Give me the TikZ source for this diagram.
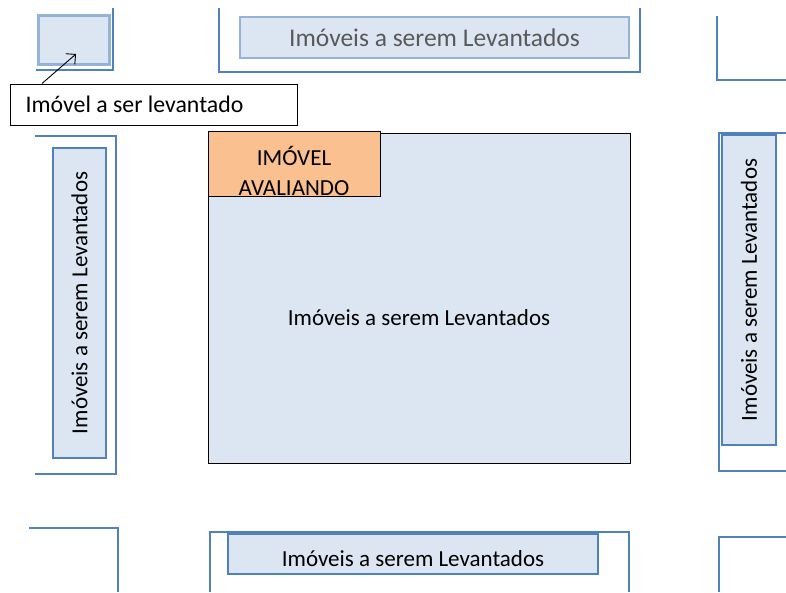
\documentclass[tikz,border=0pt]{standalone}
\usepackage{fontspec}
\setmainfont{Carlito}
\usetikzlibrary{arrows.meta}
\definecolor{lb}{HTML}{DCE6F2}
\definecolor{fr}{HTML}{4F81BD}
\definecolor{ib}{HTML}{95B3D7}
\definecolor{org}{HTML}{FAC090}
\definecolor{gtxt}{HTML}{595959}
\tikzset{
  frame/.style={draw=fr, line width=2.2pt},
  txt/.style={font=\fontsize{23}{28}\selectfont},
  lot/.style={draw=fr, fill=lb, line width=1.3pt, inner sep=0pt, txt},
  block/.style={draw=black, line width=1pt, inner sep=0pt},
}
\begin{document}
\begin{tikzpicture}[x=1pt,y=-1pt]
\useasboundingbox (0,0) rectangle (786,592);
% frames (street blocks)
\draw[frame] (113,8) -- (113,70) -- (36,70);
\draw[frame] (219,8) -- (219,72) -- (640,72) -- (640,8);
\draw[frame] (717,16) -- (717,80) -- (786,80);
\draw[frame] (35,136) -- (116,136) -- (116,474) -- (35,474);
\draw[frame] (786,133) -- (719,133) -- (719,471) -- (786,471);
\draw[frame] (29,528) -- (118,528) -- (118,592);
\draw[frame] (210,592) -- (210,532) -- (629,532) -- (629,592);
\draw[frame] (786,537) -- (719,537) -- (719,592);
% small lot
\node[draw=ib, fill=lb, line width=3pt, minimum width=71pt, minimum height=49pt, inner sep=0pt] (small) at (73.5,39.5) {};
% lots
\node[lot, draw=ib, text=gtxt, font=\fontsize{25.5}{28}\selectfont, minimum width=389pt, minimum height=41pt] (top) at (434.5,37.5) {Imóveis a serem Levantados};
\node[lot, rotate=90, minimum width=310pt, minimum height=53pt] (left) at (79.5,303) {Imóveis a serem Levantados};
\node[lot, rotate=90, minimum width=310pt, minimum height=54pt] (right) at (749,290) {Imóveis a serem Levantados};
\node[lot, minimum width=370pt, minimum height=40pt] (bottom) at (413,554) {};
\node[txt, inner sep=0pt] (btext) at (413,558.5) {Imóveis a serem Levantados};
% central block
\node[block, fill=lb, minimum width=422pt, minimum height=330pt] (center) at (419,298) {};
\node[txt, inner sep=0pt] (ctext) at (419,318) {Imóveis a serem Levantados};
\node[block, fill=org, minimum width=172pt, minimum height=65pt] (aval) at (294,163.5) {};
\node[font=\fontsize{23}{30}\selectfont, align=center, inner sep=0pt] (avtext) at (294,171) {IMÓVEL\\AVALIANDO};
% label
\node[block, fill=white, minimum width=287pt, minimum height=41pt, anchor=west] (label) at (10,104.5) {};
\node[font=\fontsize{23.8}{28}\selectfont, anchor=west, inner sep=0pt] (ltext) at (25.5,104.5) {Imóvel a ser levantado};
\coordinate (tip) at (76,54);
\draw[-{Straight Barb[length=7pt]}, line width=0.9pt] ([xshift=32pt]label.north west) -- (tip);
\end{tikzpicture}
\end{document}
